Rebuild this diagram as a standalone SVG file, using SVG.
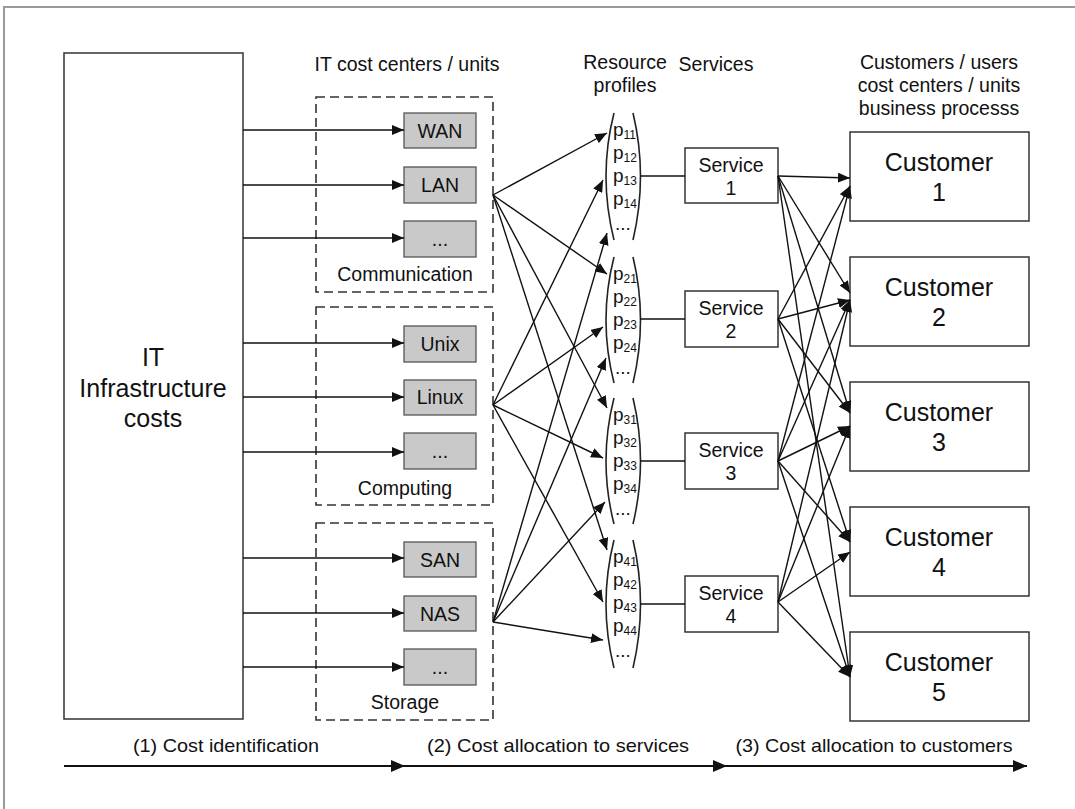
<svg xmlns="http://www.w3.org/2000/svg" width="1075" height="809" viewBox="0 0 1075 809">
<defs>
<marker id="ah" viewBox="0 0 12 10" refX="12" refY="5" markerWidth="12" markerHeight="10" markerUnits="userSpaceOnUse" orient="auto"><path d="M0,0 L12,5 L0,10 z" fill="#111"/></marker>
<marker id="ahb" viewBox="0 0 14 12" refX="14" refY="6" markerWidth="14" markerHeight="12" markerUnits="userSpaceOnUse" orient="auto"><path d="M0,0 L14,6 L0,12 z" fill="#111"/></marker>
</defs>
<style>
text{font-family:"Liberation Sans",Arial,sans-serif;fill:#111;text-anchor:middle}
.hdr{font-size:19.5px}
.big{font-size:25px}
.mid{font-size:19.5px}
.box{fill:#fff;stroke:#333;stroke-width:1.5}
.gray{fill:#c9c9c9;stroke:#555;stroke-width:1.3}
.dash{fill:none;stroke:#333;stroke-width:1.6;stroke-dasharray:9,5}
.par{fill:none;stroke:#222;stroke-width:1.6}
.c{stroke:#111;stroke-width:1.4;fill:none}
.ca{stroke:#111;stroke-width:1.4;fill:none;marker-end:url(#ah)}
.tl{stroke:#111;stroke-width:2.2;fill:none;marker-end:url(#ahb)}
.p{font-size:19px;text-anchor:start}
.sub{font-size:12px}
.ph{font-size:19px}
</style>
<rect x="0" y="0" width="1075" height="809" fill="#fff"/>
<rect x="4" y="7" width="1100" height="900" fill="none" stroke="#9a9a9a" stroke-width="2"/>

<g id="headers">
<text class="hdr" x="407" y="71">IT cost centers / units</text>
<text class="hdr" x="625" y="69">Resource</text>
<text class="hdr" x="625" y="92">profiles</text>
<text class="hdr" x="716" y="71">Services</text>
<text class="hdr" x="939" y="69">Customers / users</text>
<text class="hdr" x="939" y="92">cost centers / units</text>
<text class="hdr" x="939" y="115">business processs</text>
</g>

<g id="it-infra">
<rect class="box" x="64" y="53" width="179" height="666"/>
<text class="big" x="153" y="366">IT</text>
<text class="big" x="153" y="397">Infrastructure</text>
<text class="big" x="153" y="427">costs</text>
</g>

<g id="communication">
<rect class="dash" x="316" y="97" width="177" height="195"/>
<text class="mid" x="405" y="281">Communication</text>
</g>
<g id="computing">
<rect class="dash" x="316" y="307" width="177" height="198"/>
<text class="mid" x="405" y="495">Computing</text>
</g>
<g id="storage">
<rect class="dash" x="316" y="523" width="177" height="197"/>
<text class="mid" x="405" y="709">Storage</text>
</g>

<g id="wan"><rect class="gray" x="404" y="113" width="72" height="35"/><text class="mid" x="440" y="138">WAN</text></g>
<g id="lan"><rect class="gray" x="404" y="167" width="72" height="36"/><text class="mid" x="440" y="192">LAN</text></g>
<g id="comm-more"><rect class="gray" x="404" y="221" width="72" height="36"/><text class="mid" x="440" y="246">...</text></g>
<g id="unix"><rect class="gray" x="404" y="326" width="72" height="36"/><text class="mid" x="440" y="351">Unix</text></g>
<g id="linux"><rect class="gray" x="404" y="380" width="72" height="35"/><text class="mid" x="440" y="404">Linux</text></g>
<g id="comp-more"><rect class="gray" x="404" y="433" width="72" height="36"/><text class="mid" x="440" y="458">...</text></g>
<g id="san"><rect class="gray" x="404" y="542" width="72" height="35"/><text class="mid" x="440" y="567">SAN</text></g>
<g id="nas"><rect class="gray" x="404" y="596" width="72" height="35"/><text class="mid" x="440" y="621">NAS</text></g>
<g id="stor-more"><rect class="gray" x="404" y="649" width="72" height="36"/><text class="mid" x="440" y="674">...</text></g>

<g id="profile1">
<path class="par" d="M614,113 Q598,176 614,240"/><path class="par" d="M633,113 Q648,176 633,240"/>
<text class="p" x="613" y="136">p<tspan class="sub" dy="3">11</tspan></text>
<text class="p" x="613" y="159">p<tspan class="sub" dy="3">12</tspan></text>
<text class="p" x="613" y="182">p<tspan class="sub" dy="3">13</tspan></text>
<text class="p" x="613" y="205">p<tspan class="sub" dy="3">14</tspan></text>
<text class="p" x="615" y="230">...</text>
</g>
<g id="profile2">
<path class="par" d="M614,257 Q598,320 614,383"/><path class="par" d="M633,257 Q648,320 633,383"/>
<text class="p" x="613" y="280">p<tspan class="sub" dy="3">21</tspan></text>
<text class="p" x="613" y="303">p<tspan class="sub" dy="3">22</tspan></text>
<text class="p" x="613" y="326">p<tspan class="sub" dy="3">23</tspan></text>
<text class="p" x="613" y="349">p<tspan class="sub" dy="3">24</tspan></text>
<text class="p" x="615" y="374">...</text>
</g>
<g id="profile3">
<path class="par" d="M614,398 Q598,461 614,524"/><path class="par" d="M633,398 Q648,461 633,524"/>
<text class="p" x="613" y="421">p<tspan class="sub" dy="3">31</tspan></text>
<text class="p" x="613" y="444">p<tspan class="sub" dy="3">32</tspan></text>
<text class="p" x="613" y="467">p<tspan class="sub" dy="3">33</tspan></text>
<text class="p" x="613" y="490">p<tspan class="sub" dy="3">34</tspan></text>
<text class="p" x="615" y="515">...</text>
</g>
<g id="profile4">
<path class="par" d="M614,540 Q598,604 614,668"/><path class="par" d="M633,540 Q648,604 633,668"/>
<text class="p" x="613" y="563">p<tspan class="sub" dy="3">41</tspan></text>
<text class="p" x="613" y="586">p<tspan class="sub" dy="3">42</tspan></text>
<text class="p" x="613" y="609">p<tspan class="sub" dy="3">43</tspan></text>
<text class="p" x="613" y="632">p<tspan class="sub" dy="3">44</tspan></text>
<text class="p" x="615" y="657">...</text>
</g>

<g id="service1"><rect class="box" x="685" y="148" width="93" height="55"/><text class="mid" x="731" y="172">Service</text><text class="mid" x="731" y="195">1</text></g>
<g id="service2"><rect class="box" x="685" y="291" width="93" height="56"/><text class="mid" x="731" y="315">Service</text><text class="mid" x="731" y="338">2</text></g>
<g id="service3"><rect class="box" x="685" y="433" width="93" height="56"/><text class="mid" x="731" y="457">Service</text><text class="mid" x="731" y="480">3</text></g>
<g id="service4"><rect class="box" x="685" y="576" width="93" height="56"/><text class="mid" x="731" y="600">Service</text><text class="mid" x="731" y="623">4</text></g>

<g id="customer1"><rect class="box" x="850" y="132" width="179" height="89"/><text class="big" x="939" y="171">Customer</text><text class="big" x="939" y="201">1</text></g>
<g id="customer2"><rect class="box" x="850" y="257" width="179" height="89"/><text class="big" x="939" y="296">Customer</text><text class="big" x="939" y="326">2</text></g>
<g id="customer3"><rect class="box" x="850" y="382" width="179" height="89"/><text class="big" x="939" y="421">Customer</text><text class="big" x="939" y="451">3</text></g>
<g id="customer4"><rect class="box" x="850" y="507" width="179" height="89"/><text class="big" x="939" y="546">Customer</text><text class="big" x="939" y="576">4</text></g>
<g id="customer5"><rect class="box" x="850" y="632" width="179" height="89"/><text class="big" x="939" y="671">Customer</text><text class="big" x="939" y="701">5</text></g>

<g id="connectors">
<line class="ca" x1="243" y1="130" x2="404" y2="130"/>
<line class="ca" x1="243" y1="185" x2="404" y2="185"/>
<line class="ca" x1="243" y1="238" x2="404" y2="238"/>
<line class="ca" x1="243" y1="343" x2="404" y2="343"/>
<line class="ca" x1="243" y1="397" x2="404" y2="397"/>
<line class="ca" x1="243" y1="452" x2="404" y2="452"/>
<line class="ca" x1="243" y1="558" x2="404" y2="558"/>
<line class="ca" x1="243" y1="613" x2="404" y2="613"/>
<line class="ca" x1="243" y1="667" x2="404" y2="667"/>
<line class="ca" x1="493" y1="195" x2="607" y2="133"/>
<line class="ca" x1="493" y1="195" x2="607" y2="274"/>
<line class="ca" x1="493" y1="195" x2="607" y2="408"/>
<line class="ca" x1="493" y1="195" x2="607" y2="550"/>
<line class="ca" x1="493" y1="405" x2="603" y2="180"/>
<line class="ca" x1="493" y1="405" x2="603" y2="327"/>
<line class="ca" x1="493" y1="405" x2="603" y2="458"/>
<line class="ca" x1="493" y1="405" x2="603" y2="602"/>
<line class="ca" x1="493" y1="622" x2="607" y2="233"/>
<line class="ca" x1="493" y1="622" x2="606" y2="358"/>
<line class="ca" x1="493" y1="622" x2="605" y2="502"/>
<line class="ca" x1="493" y1="622" x2="603" y2="640"/>
<line class="c" x1="640" y1="176" x2="685" y2="176"/>
<line class="c" x1="640" y1="319" x2="685" y2="319"/>
<line class="c" x1="640" y1="461" x2="685" y2="461"/>
<line class="c" x1="640" y1="604" x2="685" y2="604"/>
<line class="ca" x1="778" y1="176" x2="850" y2="178"/>
<line class="ca" x1="778" y1="176" x2="850" y2="293"/>
<line class="ca" x1="778" y1="176" x2="850" y2="413"/>
<line class="ca" x1="778" y1="176" x2="850" y2="677"/>
<line class="ca" x1="778" y1="319" x2="850" y2="186"/>
<line class="ca" x1="778" y1="319" x2="850" y2="300"/>
<line class="ca" x1="778" y1="319" x2="850" y2="413"/>
<line class="ca" x1="778" y1="319" x2="850" y2="542"/>
<line class="ca" x1="778" y1="461" x2="850" y2="186"/>
<line class="ca" x1="778" y1="461" x2="850" y2="300"/>
<line class="ca" x1="778" y1="461" x2="850" y2="426"/>
<line class="ca" x1="778" y1="461" x2="850" y2="542"/>
<line class="ca" x1="778" y1="461" x2="850" y2="677"/>
<line class="ca" x1="778" y1="602" x2="850" y2="300"/>
<line class="ca" x1="778" y1="602" x2="850" y2="426"/>
<line class="ca" x1="778" y1="602" x2="850" y2="552"/>
<line class="ca" x1="778" y1="602" x2="850" y2="677"/>
<line class="tl" x1="64" y1="766" x2="405" y2="766"/>
<line class="tl" x1="405" y1="766" x2="727" y2="766"/>
<line class="tl" x1="727" y1="766" x2="1027" y2="766"/>
</g>

<g id="phases">
<text class="ph" x="226" y="752" textLength="186" lengthAdjust="spacingAndGlyphs">(1) Cost identification</text>
<text class="ph" x="558" y="752" textLength="262" lengthAdjust="spacingAndGlyphs">(2) Cost allocation to services</text>
<text class="ph" x="874" y="752" textLength="277" lengthAdjust="spacingAndGlyphs">(3) Cost allocation to customers</text>
</g>
</svg>
